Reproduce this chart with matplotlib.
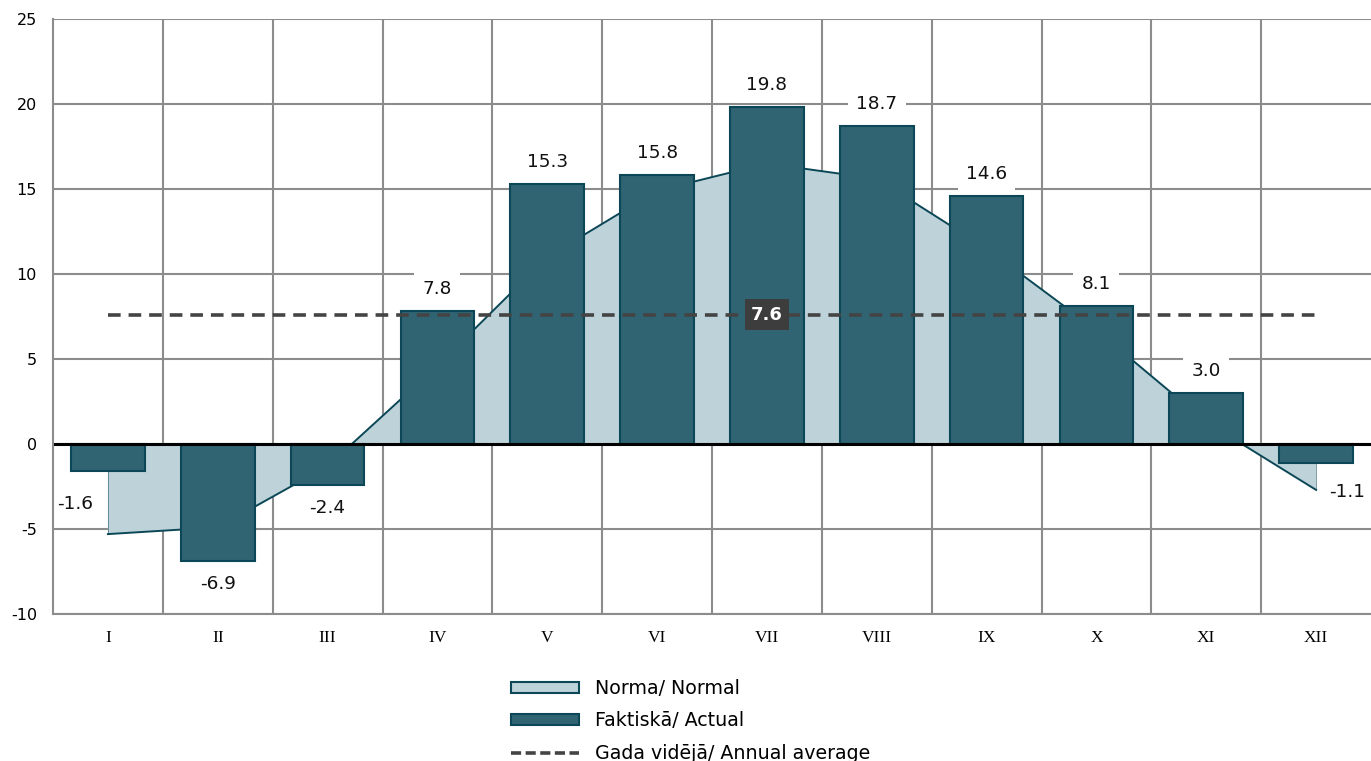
import numpy as np
import matplotlib.pyplot as plt
from matplotlib.patches import Patch
from matplotlib.lines import Line2D

plt.rcParams['axes.unicode_minus'] = False

# Dati
menesi = ['I', 'II', 'III', 'IV', 'V', 'VI', 'VII', 'VIII', 'IX', 'X', 'XI', 'XII']
norma = [-5.3, -4.9, -1.3, 4.6, 11.0, 14.9, 16.5, 15.6, 11.5, 6.7, 1.3, -2.7]
faktiska = [-1.6, -6.9, -2.4, 7.8, 15.3, 15.8, 19.8, 18.7, 14.6, 8.1, 3.0, -1.1]
gada_videja = 7.6

c_norma = '#bdd3d9'
c_fakt = '#306472'
c_edge = '#0b4756'
c_grid = '#8c8c8c'

x = np.arange(len(menesi))

fig = plt.figure(figsize=(13.71, 7.61), dpi=100)
ax = fig.add_axes([53 / 1371, 1 - 614 / 761, 1 - 53 / 1371, (614 - 19) / 761])

# Norma - laukums
ax.fill_between(x, norma, 0, facecolor=c_norma, edgecolor='none', zorder=2)
ax.plot(x, norma, color=c_edge, lw=1.4, zorder=2.1)
ax.vlines([x[0], x[-1]], 0, [norma[0], norma[-1]], color=c_edge, lw=0.6, alpha=0.6, zorder=2.1)

# Faktiskā - stabiņi
ax.bar(x, faktiska, width=0.67, color=c_fakt, edgecolor=c_edge, linewidth=1.5, zorder=3)

# Gada vidējā
ax.plot([x[0], x[-1]], [gada_videja, gada_videja], color='#444444', lw=2.6,
        dashes=(3.5, 2.2), zorder=4)
ax.text(6, gada_videja, f'{gada_videja:.1f}', ha='center', va='center', color='white',
        fontsize=13, fontweight='bold', zorder=6,
        bbox=dict(boxstyle='square,pad=0.35', fc='#3d3d3d', ec='none'))

# Vērtību etiķetes
x_shift = {0: -0.3, 11: 0.28}
y_extra = {0: -10, 11: -6}
for i, v in enumerate(faktiska):
    off = 22 if v >= 0 else -23
    off += y_extra.get(i, 0)
    ax.annotate(f'{v:.1f}', xy=(i + x_shift.get(i, 0), v), xytext=(0, off * 0.72),
                textcoords='offset points', ha='center', va='center', fontsize=13.3,
                color='#111111', zorder=2.6,
                bbox=dict(boxstyle='square,pad=0.45', fc='white', ec='none'))

# Asis un režģis
ax.set_xlim(-0.5, 11.5)
ax.set_ylim(-10, 25)
ax.set_yticks(np.arange(-10, 26, 5))
ax.set_xticks(x)
ax.set_xticklabels(menesi, family='Liberation Serif', fontsize=12.5)
ax.set_xticks(np.arange(0.5, 11, 1), minor=True)
ax.tick_params(axis='both', which='both', length=0)
ax.tick_params(axis='y', labelsize=11.5, pad=11.5)
ax.tick_params(axis='x', pad=11.5)
ax.grid(True, axis='y', color=c_grid, lw=1.5, zorder=0)
ax.grid(True, axis='x', which='minor', color=c_grid, lw=1.5, zorder=0)
ax.set_axisbelow(True)
for s in ['top', 'right']:
    ax.spines[s].set_visible(False)
for s in ['left', 'bottom']:
    ax.spines[s].set_color(c_grid)
    ax.spines[s].set_linewidth(1.5)
    ax.spines[s].set_zorder(6)
ax.axhline(0, color='black', lw=2.2, zorder=4)

# Leģenda
handles = [Patch(facecolor=c_norma, edgecolor=c_edge, linewidth=1.5),
           Patch(facecolor=c_fakt, edgecolor=c_edge, linewidth=1.5),
           Line2D([], [], color='#444444', lw=2.6, dashes=(2.8, 1.25))]
labels = ['Norma/ Normal', 'Faktiskā/ Actual', 'Gada vidējā/ Annual average']
fig.legend(handles, labels, loc='upper left', bbox_to_anchor=(511 / 1371, 1 - 679 / 761),
           frameon=False, fontsize=13.7, handlelength=3.55, handleheight=0.5,
           handletextpad=0.85, labelspacing=0.7, borderpad=0, borderaxespad=0)

fig.savefig('out.png', dpi=100)
